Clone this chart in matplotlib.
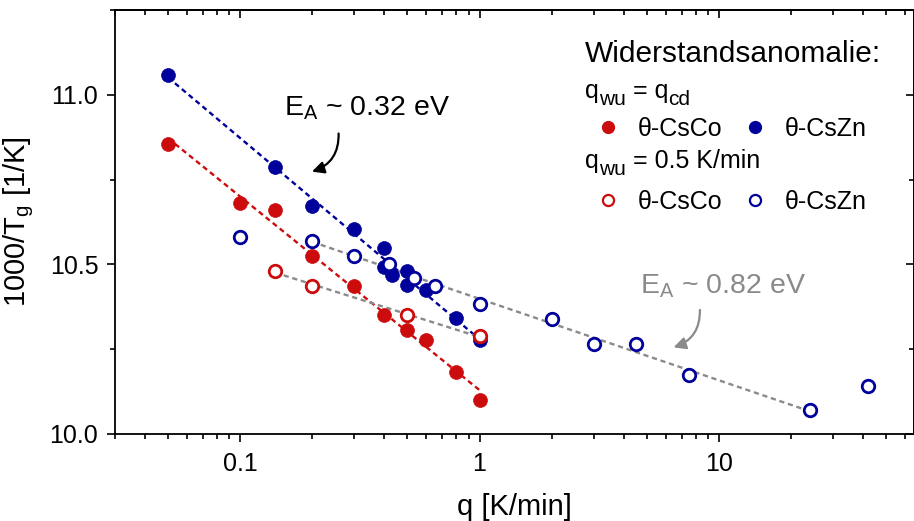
import numpy as np
import matplotlib
matplotlib.use('Agg')
import matplotlib.pyplot as plt
from matplotlib.lines import Line2D
from matplotlib.ticker import MultipleLocator, FuncFormatter, NullFormatter, FormatStrFormatter

plt.rcParams['font.family'] = ['Liberation Sans', 'DejaVu Sans']
plt.rcParams['mathtext.default'] = 'regular'

RED = '#cc0c0c'
BLUE = '#00009a'
GREY = '#8a8a8a'

# q_wu = q_cd (filled symbols)
q_co_cd = [0.05, 0.1, 0.14, 0.2, 0.3, 0.4, 0.5, 0.6, 0.8, 1.0]
tg_co_cd = [10.855, 10.680, 10.659, 10.524, 10.437, 10.350, 10.308, 10.276, 10.183, 10.100]
q_zn_cd = [0.05, 0.14, 0.2, 0.3, 0.4, 0.4, 0.43, 0.5, 0.5, 0.6, 0.8, 1.0]
tg_zn_cd = [11.059, 10.786, 10.671, 10.603, 10.548, 10.492, 10.469, 10.482, 10.438, 10.426, 10.341, 10.276]

# q_wu = 0.5 K/min (open symbols)
q_co_05 = [0.14, 0.2, 0.5, 1.0]
tg_co_05 = [10.480, 10.437, 10.351, 10.288]
q_zn_05 = [0.1, 0.2, 0.3, 0.42, 0.53, 0.65, 1.0, 2.0, 3.0, 4.5, 7.5, 24.0, 42.0]
tg_zn_05 = [10.580, 10.570, 10.524, 10.502, 10.459, 10.437, 10.384, 10.340, 10.266, 10.266, 10.174, 10.071, 10.142]

# q range used for the Arrhenius fits
fit_co_cd = (0.05, 1.0)
fit_zn_cd = (0.05, 1.0)
fit_co_05 = (0.14, 1.0)
fit_zn_05 = (0.2, 24.0)


def fit_line(q, tg, rng):
    q = np.asarray(q)
    tg = np.asarray(tg)
    m = (q >= rng[0]) & (q <= rng[1])
    k, d = np.polyfit(np.log10(q[m]), tg[m], 1)
    qq = np.array(rng)
    return qq, k * np.log10(qq) + d


def sub_label(ax, x, y, parts, fs=18, sub_fs=15, drop=4.5):
    # chain text pieces so that subscripts can be bigger than mathtext ones
    d_main = 0.21 * fs
    d_sub = 0.21 * sub_fs
    prev = ax.text(x, y, parts[0][0], transform=ax.transAxes, fontsize=fs, va='baseline')
    prev_sub = False
    for s, is_sub in parts[1:]:
        if is_sub:
            off = d_main - d_sub - drop
            size = sub_fs
        else:
            off = drop + d_sub - d_main if prev_sub else 0
            size = fs
        prev = ax.annotate(s, xy=(1, 0), xycoords=prev, xytext=(0, off),
                           textcoords='offset points', fontsize=size, va='bottom', ha='left')
        prev_sub = is_sub


fig = plt.figure(figsize=(9.14, 5.21), dpi=100)
ax = fig.add_axes([115 / 914, 1 - 434 / 521, (913.5 - 115) / 914, (434 - 10) / 521])

dash = (0, (2.2, 1.6))
for q, tg, rng, c in [(q_co_cd, tg_co_cd, fit_co_cd, RED),
                      (q_zn_cd, tg_zn_cd, fit_zn_cd, BLUE),
                      (q_co_05, tg_co_05, fit_co_05, GREY),
                      (q_zn_05, tg_zn_05, fit_zn_05, GREY)]:
    xx, yy = fit_line(q, tg, rng)
    ax.plot(xx, yy, ls=dash, lw=1.7, color=c, zorder=2)

ms = 10
ax.plot(q_co_cd, tg_co_cd, 'o', ms=ms, mfc=RED, mec=RED, mew=0.5, zorder=3)
ax.plot(q_zn_cd, tg_zn_cd, 'o', ms=ms, mfc=BLUE, mec=BLUE, mew=0.5, zorder=3)
ax.plot(q_co_05, tg_co_05, 'o', ms=9, mfc='white', mec=RED, mew=2, zorder=4)
ax.plot(q_zn_05, tg_zn_05, 'o', ms=9, mfc='white', mec=BLUE, mew=2, zorder=4)

ax.set_xscale('log')
ax.set_xlim(0.03, 65)
ax.set_ylim(10.0, 11.25)
ax.xaxis.set_major_formatter(FuncFormatter(lambda v, p: f'{v:g}'))
ax.xaxis.set_minor_formatter(NullFormatter())
ax.yaxis.set_major_locator(MultipleLocator(0.5))
ax.yaxis.set_minor_locator(MultipleLocator(0.25))
ax.yaxis.set_major_formatter(FormatStrFormatter('%.1f'))
ax.tick_params(which='major', direction='out', length=6, width=1.2, labelsize=18, pad=6)
ax.tick_params(which='minor', direction='out', length=3.5, width=1.2)
ax.tick_params(axis='x', which='major', pad=7)
for s in ax.spines.values():
    s.set_linewidth(1.3)

top = ax.secondary_xaxis('top')
top.tick_params(which='major', direction='in', length=6, width=1.2)
top.tick_params(which='minor', direction='in', length=3.5, width=1.2)
top.xaxis.set_major_formatter(NullFormatter())
top.xaxis.set_minor_formatter(NullFormatter())
top.spines['top'].set_linewidth(1.3)

right = ax.secondary_yaxis('right')
right.yaxis.set_major_locator(MultipleLocator(0.5))
right.yaxis.set_minor_locator(MultipleLocator(0.25))
right.tick_params(which='major', direction='in', length=6, width=1.2)
right.tick_params(which='minor', direction='in', length=3.5, width=1.2)
right.yaxis.set_major_formatter(NullFormatter())
right.spines['right'].set_linewidth(1.3)

ax.set_xlabel('q [K/min]', fontsize=21, labelpad=12)
ax.set_ylabel('1000/T$_g$ [1/K]', fontsize=21, labelpad=10)

# activation energy annotations
ax.text(0.1529, 10.938, 'E$_A$ ~ 0.32 eV', fontsize=20.5, color='black', ha='left', va='baseline')
ax.annotate('', xy=(0.1945, 10.771), xytext=(0.2575, 10.894),
            arrowprops=dict(arrowstyle='-|>', connectionstyle='arc3,rad=-0.4',
                            color='black', lw=1.6, mutation_scale=18))
ax.text(4.67, 10.4156, 'E$_A$ ~ 0.82 eV', fontsize=20.5, color=GREY, ha='left', va='baseline')
ax.annotate('', xy=(6.30, 10.253), xytext=(8.32, 10.374),
            arrowprops=dict(arrowstyle='-|>', connectionstyle='arc3,rad=-0.4',
                            color=GREY, lw=1.6, mutation_scale=18))

# legend block
ax.text(0.589, 0.878, 'Widerstandsanomalie:', transform=ax.transAxes, fontsize=21.5, va='baseline')
sub_label(ax, 0.589, 0.792, [('q', False), ('wu', True), (' = q', False), ('cd', True)])
sub_label(ax, 0.589, 0.627, [('q', False), ('wu', True), (' = 0.5 K/min', False)])

h_co_cd = Line2D([], [], marker='o', ls='none', ms=8.5, mfc=RED, mec=RED)
h_zn_cd = Line2D([], [], marker='o', ls='none', ms=8.5, mfc=BLUE, mec=BLUE)
h_co_05 = Line2D([], [], marker='o', ls='none', ms=8, mfc='white', mec=RED, mew=1.6)
h_zn_05 = Line2D([], [], marker='o', ls='none', ms=8, mfc='white', mec=BLUE, mew=1.6)

leg_kw = dict(ncol=2, loc='center left', frameon=False, fontsize=18, handlelength=0.8,
              handletextpad=0.8, columnspacing=0.9, borderpad=0, borderaxespad=0)
leg1 = ax.legend([h_co_cd, h_zn_cd], ['θ-CsCo', 'θ-CsZn'], bbox_to_anchor=(0.605, 0.719), **leg_kw)
ax.add_artist(leg1)
ax.legend([h_co_05, h_zn_05], ['θ-CsCo', 'θ-CsZn'], bbox_to_anchor=(0.605, 0.548), **leg_kw)

fig.savefig('out.png', dpi=100)
